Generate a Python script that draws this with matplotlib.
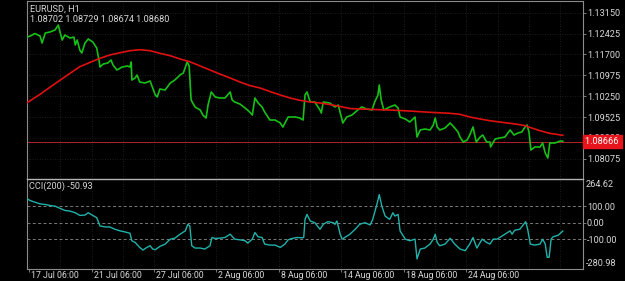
import matplotlib
matplotlib.use("Agg")
import matplotlib.pyplot as plt
import matplotlib.transforms as mtransforms
import numpy as np

plt.rcParams['font.family'] = ['Roboto', 'DejaVu Sans']

# ---------------- data (bar index = hours of trading since 17 Jul 06:00) ----------------
price_bars = [-3, 2, 9, 17, 20, 25, 32, 40, 45, 48, 51, 55, 63, 69, 71, 74, 78, 81, 86, 91,
              98, 104, 108, 109, 114, 121, 126, 129, 135, 143, 151, 155, 157, 158, 163, 166, 170, 178, 186, 190,
              194, 197, 201, 209, 217, 224, 232, 237, 243, 246, 249, 255, 263, 267, 272, 275, 280, 286, 293, 301,
              309, 312, 316, 324, 332, 339, 343, 347, 352, 358, 362, 370, 378, 386, 390, 398, 404, 409, 416, 421,
              424, 427, 432, 439, 447, 449, 452, 462, 470, 475, 481, 482, 488, 496, 505, 511, 519, 527, 531, 536,
              538, 541, 545, 554, 562, 567, 570, 578, 585, 593, 596, 601, 608, 616, 621, 624, 627, 631, 639, 647,
              654, 659, 662, 667, 673, 677, 682, 687, 693, 697, 703, 708, 709, 716, 723, 731, 739, 745, 751, 757,
              762, 765, 768, 771, 777, 785, 789, 793, 797, 800, 808, 816, 820]
price_close = [1.12305, 1.12340, 1.12427, 1.12340, 1.12097, 1.12444, 1.12479, 1.12549, 1.12722, 1.12444,
               1.12201, 1.12375, 1.12271, 1.12305, 1.12027, 1.12201, 1.11853, 1.11749, 1.12097, 1.12236,
               1.12132, 1.11923, 1.11436, 1.11263, 1.11367, 1.11402, 1.11506, 1.11332, 1.11158, 1.11263,
               1.11297, 1.11263, 1.11436, 1.10811, 1.10880, 1.10985, 1.10741, 1.10706, 1.10776, 1.10533,
               1.10289, 1.10220, 1.10498, 1.10463, 1.10706, 1.10811, 1.10985, 1.11054, 1.11436, 1.11297,
               1.10116, 1.09872, 1.09768, 1.09594, 1.09490, 1.09942, 1.10394, 1.10220, 1.10185, 1.10185,
               1.10394, 1.10116, 1.10046, 1.09976, 1.09837, 1.09698, 1.09594, 1.10185, 1.10011, 1.09872,
               1.09698, 1.09420, 1.09420, 1.09316, 1.09177, 1.09525, 1.09525, 1.09525, 1.09490, 1.09420,
               1.10289, 1.10394, 1.10046, 1.10046, 1.09768, 1.09664, 1.10046, 1.10011, 1.09872, 1.09942,
               1.09420, 1.09316, 1.09525, 1.09594, 1.09768, 1.09872, 1.09803, 1.09768, 1.10046, 1.10289,
               1.10637, 1.10116, 1.09768, 1.09872, 1.09942, 1.09837, 1.09525, 1.09455, 1.09351, 1.09525,
               1.08829, 1.09073, 1.09107, 1.09073, 1.09247, 1.09490, 1.09177, 1.09073, 1.09142, 1.09316,
               1.09142, 1.09003, 1.08829, 1.08656, 1.08725, 1.08899, 1.09177, 1.08656, 1.08829, 1.08899,
               1.08656, 1.08656, 1.08482, 1.08760, 1.08795, 1.08829, 1.09073, 1.08899, 1.08968, 1.09003,
               1.09177, 1.09247, 1.09003, 1.08378, 1.08482, 1.08482, 1.08621, 1.08273, 1.08099, 1.08621,
               1.08621, 1.08690, 1.08680]

ma_bars = [-3, 17, 32, 48, 63, 78, 94, 109, 124, 140, 155, 170, 186, 201, 217, 232, 247, 263, 278, 293,
           309, 324, 339, 355, 370, 386, 401, 416, 432, 447, 462, 478, 493, 508, 524, 539, 554, 570, 585, 601,
           616, 631, 647, 662, 677, 693, 708, 723, 739, 754, 762, 770, 785, 800, 820]
ma_values = [1.10022, 1.10314, 1.10557, 1.10811, 1.11044, 1.11273, 1.11426, 1.11565, 1.11680, 1.11760,
             1.11829, 1.11864, 1.11829, 1.11739, 1.11655, 1.11541, 1.11447, 1.11297, 1.11158, 1.11019,
             1.10880, 1.10741, 1.10620, 1.10533, 1.10411, 1.10289, 1.10185, 1.10105, 1.10046, 1.10011,
             1.09959, 1.09890, 1.09820, 1.09803, 1.09792, 1.09778, 1.09768, 1.09751, 1.09733, 1.09709,
             1.09688, 1.09671, 1.09653, 1.09618, 1.09525, 1.09455, 1.09396, 1.09351, 1.09306, 1.09257,
             1.09222, 1.09160, 1.09048, 1.08958, 1.08888]

cci_bars = [-3, 2, 9, 17, 25, 32, 40, 48, 55, 63, 71, 78, 86, 91, 97, 104, 109, 117, 124, 132,
            140, 147, 155, 158, 163, 170, 175, 181, 186, 190, 194, 201, 209, 217, 224, 232, 240, 244, 247, 250,
            255, 263, 270, 278, 281, 286, 293, 301, 309, 316, 324, 332, 336, 343, 347, 352, 358, 362, 370, 378,
            386, 393, 398, 404, 412, 419, 422, 424, 427, 432, 439, 447, 452, 459, 467, 470, 473, 478, 481, 485,
            493, 501, 508, 516, 524, 528, 535, 538, 542, 547, 554, 559, 562, 567, 570, 578, 585, 593, 596, 601,
            608, 616, 621, 624, 627, 631, 639, 647, 654, 662, 670, 677, 682, 688, 696, 703, 708, 713, 719, 723,
            731, 739, 742, 746, 754, 760, 763, 766, 770, 777, 785, 789, 793, 796, 799, 802, 805, 813, 820]
cci_values = [144, 134, 124, 114, 110, 104, 100, 86, 74, 70, 60, 44, 46, 60, 46, 30, -20, -26, -26, -40,
              -50, -56, -64, -110, -120, -150, -166, -150, -140, -160, -164, -144, -130, -100, -94, -70, -50, -10, -20, -140,
              -154, -154, -160, -140, -90, -96, -94, -90, -70, -100, -104, -110, -124, -100, -60, -86, -90, -130, -136, -136,
              -150, -130, -104, -96, -90, -92, -90, 20, 50, 10, 0, -40, -10, 6, 0, -10, 10, -70, -100, -90,
              -70, -40, -10, 0, -14, 20, 120, 170, 100, 40, 20, 60, 40, 50, -50, -100, -110, -100, -220, -160,
              -154, -130, -100, -70, -120, -140, -130, -95, -130, -160, -170, -130, -90, -154, -100, -120, -130, -100, -100, -90,
              -70, -50, -70, -46, -40, -10, 6, -40, -130, -136, -130, -100, -130, -210, -210, -100, -86, -76, -50.93]

price_ticks = [1.13150, 1.12425, 1.11700, 1.10975, 1.10250, 1.09525, 1.08800, 1.08075]
cci_levels = [100, 0, -100]
cci_range = [-280.98, 264.62]
date_tick_bars = [0, 96, 192, 288, 384, 480, 576, 672]
date_tick_labels = ["17 Jul 06:00", "21 Jul 06:00", "27 Jul 06:00", "2 Aug 06:00",
                    "8 Aug 06:00", "14 Aug 06:00", "18 Aug 06:00", "24 Aug 06:00"]
bid_price = 1.08666
ohlc_text = "1.08702 1.08729 1.08674 1.08680"
cci_last = -50.93

# ---------------- figure ----------------
W, H = 625, 281
fig = plt.figure(figsize=(W / 100, H / 100), dpi=100, facecolor='black')

def fx(px):
    return px / W

def fy(py):
    return 1 - py / H

L, R = 27, 583
ax = fig.add_axes([fx(L), fy(179), fx(R) - fx(L), fy(1) - fy(179)], facecolor='black')
ax2 = fig.add_axes([fx(L), fy(269), fx(R) - fx(L), fy(179) - fy(269)], facecolor='black', sharex=ax)

xlim = (-3.1, 851)
grid_col = '#262626'
axis_col = '#8c8c8c'
txt_col = '#d8d8d8'
fs = 6.6
fs_x = 6.3

# main panel
ax.set_xlim(*xlim)
ax.set_ylim(1.07370, 1.13557)
for xb in range(0, 860, 48):
    ax.axvline(xb, color=grid_col, lw=0.6, ls=(0, (1, 2)), zorder=0)
    ax2.axvline(xb, color=grid_col, lw=0.6, ls=(0, (1, 2)), zorder=0)
for p in price_ticks:
    ax.axhline(p, color=grid_col, lw=0.6, ls=(0, (1, 2)), zorder=0)

ax.plot(price_bars, price_close, color='#17c017', lw=1.2, zorder=3)
ax.plot(ma_bars, ma_values, color='#e01010', lw=1.2, zorder=4)
ax.axhline(bid_price, color='#b3202a', lw=0.7, zorder=2)

ax.yaxis.tick_right()
ax.set_yticks(price_ticks)
ax.set_yticklabels([f"{p:.5f}" for p in price_ticks])
ax.tick_params(axis='y', colors=axis_col, labelcolor=txt_col, labelsize=fs, length=2, width=0.6, pad=0.8)
ax.tick_params(axis='x', bottom=False, labelbottom=False)
for s in ['left', 'top', 'right']:
    ax.spines[s].set_color(axis_col)
    ax.spines[s].set_linewidth(0.8)
ax.spines['bottom'].set_visible(False)

# bid label box
ax.text(1.003, bid_price, f"{bid_price:.5f} ", transform=ax.get_yaxis_transform(),
        ha='left', va='center', fontsize=fs, color='white', zorder=10, clip_on=False,
        bbox=dict(boxstyle='square,pad=0.2', fc='#e8141c', ec='#e8141c'))

# lower panel (CCI)
ax2.set_ylim(*cci_range)
for lv in cci_levels:
    ax2.axhline(lv, color='#7a7a7a', lw=0.7, ls=(0, (3, 2.5)), zorder=1)
ax2.plot(cci_bars, cci_values, color='#20b2aa', lw=1.0, zorder=3)
ax2.yaxis.tick_right()
ax2.set_yticks(cci_levels)
ax2.set_yticklabels([f"{v:.2f}" for v in cci_levels])
ax2.tick_params(axis='y', colors=axis_col, labelcolor=txt_col, labelsize=fs, length=2, width=0.6, pad=0.8)
ax2.text(1.005, 0.99, f"{cci_range[1]:.2f}", transform=ax2.transAxes, ha='left', va='top',
         fontsize=fs, color=txt_col, clip_on=False)
ax2.text(1.005, 0.01, f"{cci_range[0]:.2f}", transform=ax2.transAxes, ha='left', va='bottom',
         fontsize=fs, color=txt_col, clip_on=False)
ax2.set_xticks(date_tick_bars)
ax2.set_xticklabels(date_tick_labels)
ax2.tick_params(axis='x', colors=axis_col, labelcolor=txt_col, labelsize=fs_x, length=2.5, width=0.6, pad=-1.2)
shift = mtransforms.ScaledTranslation(2 / 100, 0, fig.dpi_scale_trans)
for lab in ax2.get_xticklabels():
    lab.set_horizontalalignment('left')
    lab.set_transform(lab.get_transform() + shift)
for s in ['left', 'right', 'bottom']:
    ax2.spines[s].set_color(axis_col)
    ax2.spines[s].set_linewidth(0.8)
ax2.spines['top'].set_color('#b4b4b4')
ax2.spines['top'].set_linewidth(1.0)
ax2.set_xlim(*xlim)

# texts
fig.text(fx(30), fy(9), "EURUSD, H1", fontsize=fs, color=txt_col, ha='left', va='center')
fig.text(fx(30), fy(19.5), ohlc_text, fontsize=fs, color=txt_col, ha='left', va='center')
fig.text(fx(29), fy(186.5), f"CCI(200) {cci_last:.2f}", fontsize=fs, color=txt_col, ha='left', va='center')

fig.savefig("out.png", dpi=100, facecolor='black')
